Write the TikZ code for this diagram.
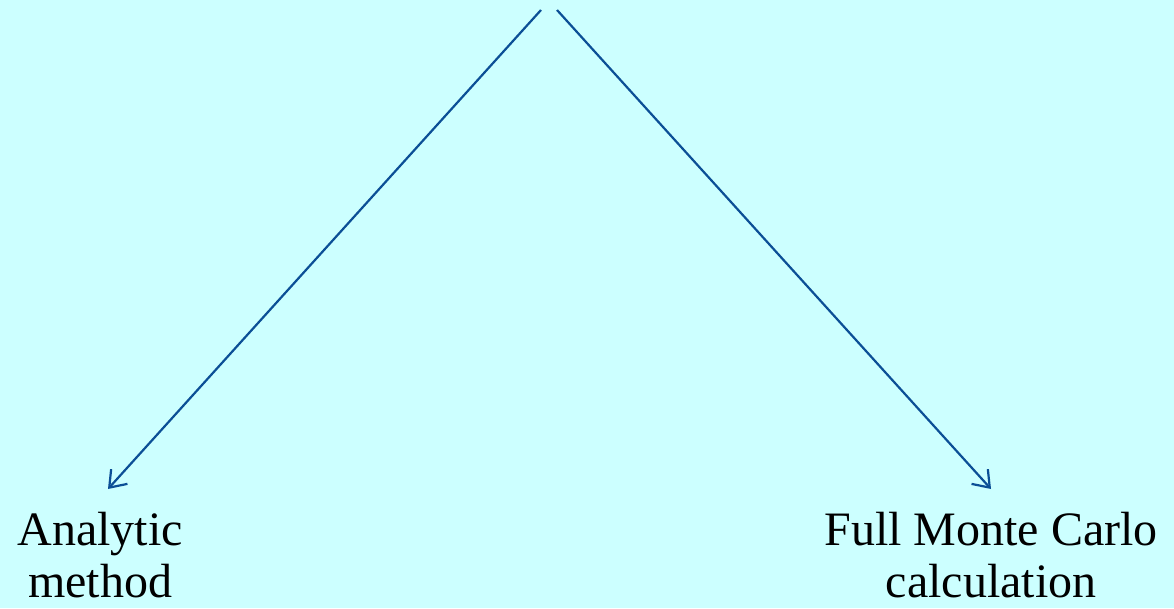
\documentclass[tikz,border=0pt]{standalone}
\usepackage{fontspec}
\setmainfont{Liberation Serif}
\usetikzlibrary{arrows.meta}
\definecolor{bgcyan}{HTML}{CCFFFF}
\definecolor{arrowblue}{HTML}{0B4F96}
\tikzset{
  link/.style={draw=arrowblue, line width=2.2pt, -{Straight Barb[length=15pt,width=22pt,line width=2.2pt]}},
  label/.style={align=center, anchor=base, inner sep=0pt, text=black, font=\fontsize{48}{52}\selectfont}
}
\begin{document}
\begin{tikzpicture}[x=1pt,y=1pt]
\fill[bgcyan] (0,0) rectangle (1174,608);
\useasboundingbox (0,0) rectangle (1174,608);
\coordinate (srcL) at (541,598);
\coordinate (srcR) at (557,598);
\coordinate (tipL) at (108,119);
\coordinate (tipR) at (991,119);
\node[label] (analytic) at (100,11) {Analytic\\method};
\node[label] (montecarlo) at (991,11) {Full Monte Carlo\\calculation};
\draw[link] (srcL) -- (tipL);
\draw[link] (srcR) -- (tipR);
\end{tikzpicture}
\end{document}
